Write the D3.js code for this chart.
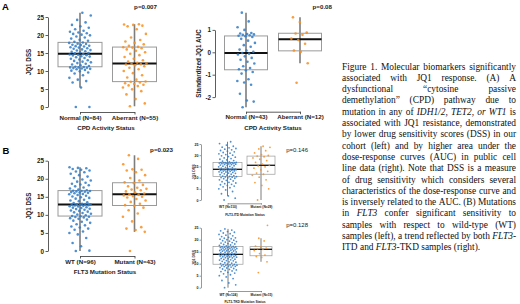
<!DOCTYPE html>
<html>
<head>
<meta charset="utf-8">
<script src="https://cdn.jsdelivr.net/npm/d3@7"></script>
<style>
  body { margin: 0; background: #fff; }
</style>
</head>
<body>
<div id="chart"></div>
<script>
// Data
var cpdGroups        = [ "Normal (N=84)", "Aberrant (N=55)" ];
var cpdAucGroups     = [ "Normal (N=43)", "Aberrant (N=12)" ];
var flt3Groups       = [ "WT (N=96)", "Mutant (N=43)" ];
var itdGroups        = [ "WT (N=110)", "Mutant (N=29)" ];
var tkdGroups        = [ "WT (N=124)", "Mutant (N=15)" ];

var dssTicks         = [ 0, 5, 10, 15, 20, 25 ];
var aucTicks         = [ -2, -1, 0, 1 ];
var pValues          = [ "p=0.007", "p=0.08", "p=0.023", "p=0.146", "p=0.128" ];

// JQ1 DSS by CPD status (our cohort)
var cpdDssNormal     = [ 0, 0, 5.4, 6.8, 7.2, 7.6, 8.1, 8.8, 9.3, 9.6, 9.9, 10.1, 10.3, 10.5, 10.6, 10.7, 10.8, 10.9, 11.0, 11.0, 11.1,
                         11.2, 11.4, 11.6, 11.8, 12.0, 12.2, 12.4, 12.6, 12.8, 13.0, 13.2, 13.4, 13.6, 13.8, 14.0, 14.1, 14.3, 14.4, 14.5, 14.6, 14.7,
                         14.9, 15.0, 15.2, 15.3, 15.5, 15.7, 15.8, 16.0, 16.2, 16.3, 16.5, 16.6, 16.8, 16.9, 17.0, 17.2, 17.3, 17.5, 17.6, 17.8, 17.9,
                         18.1, 18.4, 18.7, 19.0, 19.3, 19.6, 19.9, 20.1, 20.3, 20.5, 20.7, 20.9, 21.2, 21.6, 22.0, 22.4, 22.8, 23.5, 24.2, 25.4, 26.2 ];
var cpdDssAberrant   = [ 0.2, 1.0, 2.2, 3.5, 4.4, 4.9, 5.4, 5.8, 6.0, 6.2, 6.4, 6.6, 6.8, 7.0,
                         7.1, 7.6, 8.2, 8.8, 9.4, 10.0, 10.5, 10.9, 11.3, 11.6, 11.8, 11.9, 12.0, 12.1,
                         12.3, 12.6, 13.0, 13.4, 13.9, 14.4, 14.8, 15.2, 15.6, 16.0, 16.3, 16.5, 16.6,
                         16.7, 17.0, 17.4, 17.8, 18.2, 18.6, 19.3, 20.3, 21.6, 22.4, 22.6, 22.8, 22.9, 23.0 ];

// Standardized JQ1 AUC by CPD status (cell lines)
var cpdAucNormal     = [ -2.45, -2.2, -2.15, -1.85, -1.45, -1.35, -1.28, -1.2, -0.95, -0.88, -0.8,
                         -0.76, -0.7, -0.62, -0.5, -0.42, -0.33, -0.25, -0.18, -0.1, -0.06, -0.03,
                         0.02, 0.08, 0.12, 0.25, 0.32, 0.42, 0.52, 0.6, 0.68, 0.72,
                         0.74, 0.76, 0.78, 0.8, 0.82, 0.84, 0.86, 1.0, 1.12, 1.38, 1.77 ];
var cpdAucAberrant   = [ -1.36, -0.49, 0.02, 0.08, 0.38, 0.55, 0.61, 0.78, 0.84, 0.88, 1.35, 1.56 ];

// JQ1 DSS by FLT3 status
var flt3DssWT        = [ 0, 0.1, 1.3, 2.2, 3.6, 4.6, 5.0, 5.4, 5.9, 6.2, 6.5, 6.8, 7.1, 7.4, 7.8, 8.1, 8.4, 8.7, 8.9, 9.1, 9.3, 9.4, 9.5, 9.6,
                         9.7, 9.9, 10.1, 10.3, 10.5, 10.7, 10.9, 11.1, 11.2, 11.4, 11.6, 11.7, 11.9, 12.0, 12.1, 12.3, 12.4, 12.5, 12.6, 12.7, 12.8, 12.8, 12.9, 12.9,
                         12.9, 13.1, 13.3, 13.5, 13.8, 14.0, 14.2, 14.5, 14.7, 14.9, 15.1, 15.3, 15.5, 15.7, 15.8, 16.0, 16.1, 16.2, 16.3, 16.4, 16.5, 16.6, 16.6, 16.7,
                         16.8, 17.0, 17.3, 17.6, 17.9, 18.2, 18.4, 18.6, 18.9, 19.2, 19.5, 19.8, 20.2, 20.6, 21.0, 21.4, 21.8, 22.0, 22.3, 22.5, 22.7, 22.9, 23.0, 23.2 ];
var flt3DssMutant    = [ 0, 5.3, 5.8, 6.2, 6.6, 8.2, 9.5, 10.4, 11.3, 12.0, 12.5,
                         12.7, 13.1, 13.6, 14.0, 14.4, 14.8, 15.0, 15.2, 15.4, 15.6, 15.7,
                         15.9, 16.2, 16.5, 16.8, 17.0, 17.2, 17.5, 17.9, 18.3, 18.8,
                         19.0, 19.5, 20.2, 21.0, 21.8, 22.3, 22.5, 22.6, 24.0, 25.5, 26.5 ];

// JQ1 DSS by FLT3-ITD status
var itdDssWT         = [ 0, 0.8, 1.8, 2.8, 3.8, 4.5, 5.0, 5.5, 5.9, 6.2, 6.5, 6.8, 7.0, 7.3, 7.6, 7.9, 8.2, 8.5, 8.8, 9.0, 9.3, 9.5, 9.7, 9.9, 10.0, 10.2, 10.3, 10.4,
                         10.5, 10.7, 10.9, 11.1, 11.3, 11.5, 11.7, 11.9, 12.0, 12.2, 12.3, 12.5, 12.6, 12.8, 12.9, 13.0, 13.1, 13.2, 13.3, 13.4, 13.5, 13.5, 13.6, 13.6, 13.7, 13.7, 13.7,
                         13.7, 13.8, 14.0, 14.2, 14.4, 14.6, 14.8, 15.0, 15.1, 15.3, 15.5, 15.6, 15.8, 15.9, 16.0, 16.1, 16.2, 16.3, 16.4, 16.5, 16.5, 16.6, 16.6, 16.7, 16.7, 16.7, 16.7,
                         16.8, 17.0, 17.3, 17.6, 17.9, 18.2, 18.5, 18.8, 19.1, 19.4, 19.7, 20.0, 20.3, 20.6, 20.9, 21.2, 21.5, 21.8, 22.1, 22.4, 22.7, 23.0, 23.3, 23.6, 24.0, 24.5, 25.2, 26.0 ];
var itdDssMutant     = [ 0, 5.0, 6.5, 7.8, 9.0, 10.2, 11.0, 11.5, 12.0, 12.8, 13.5, 14.2, 14.8, 15.2, 15.5,
                         16.0, 16.8, 17.6, 18.2, 18.8, 19.3, 19.6, 19.9, 20.3, 21.0, 22.0, 22.8, 23.5, 24.0 ];

// JQ1 DSS by FLT3-TKD status
var tkdDssWT         = [ 0, 1.2, 2.0, 3.0, 3.8, 4.5, 5.0, 5.4, 5.8, 6.1, 6.4, 6.7, 7.0, 7.2, 7.4, 7.6, 7.8, 8.0, 8.2, 8.4, 8.6, 8.8, 8.9, 9.0, 9.1, 9.2, 9.3, 9.4, 9.5, 9.6, 9.7,
                         9.8, 10.0, 10.2, 10.4, 10.6, 10.8, 11.0, 11.2, 11.3, 11.5, 11.6, 11.8, 11.9, 12.1, 12.2, 12.4, 12.5, 12.7, 12.8, 12.9, 13.0, 13.1, 13.2, 13.3, 13.4, 13.5, 13.6, 13.7, 13.8, 13.8, 13.9,
                         13.9, 14.0, 14.2, 14.3, 14.5, 14.6, 14.8, 14.9, 15.0, 15.2, 15.3, 15.4, 15.5, 15.6, 15.7, 15.8, 15.9, 16.0, 16.1, 16.2, 16.3, 16.4, 16.5, 16.6, 16.7, 16.8, 16.8, 16.9, 17.0, 17.0, 17.1,
                         17.2, 17.4, 17.6, 17.8, 18.0, 18.2, 18.4, 18.6, 18.8, 19.0, 19.2, 19.4, 19.6, 19.8, 20.0, 20.2, 20.4, 20.6, 20.8, 21.0, 21.3, 21.6, 21.9, 22.2, 22.5, 22.8, 23.1, 23.4, 23.7, 24.0, 24.5 ];
var tkdDssMutant     = [ 6.3, 10.8, 12.6, 13.0, 13.6, 14.2, 15.5, 16.0, 16.2, 16.5, 16.9, 17.3, 19.5, 20.6, 26.0 ];

// Caption (*...* = italic)
var captionLines = [
    "Figure 1. Molecular biomarkers significantly",
    "associated with JQ1 response. (A) A",
    "dysfunctional \u201ccytosine passive",
    "demethylation\u201d (CPD) pathway due to",
    "mutation in any of *IDH1/2, TET2, or WT1* is",
    "associated with JQ1 resistance, demonstrated",
    "by lower drug sensitivity scores (DSS) in our",
    "cohort (left) and by higher area under the",
    "dose-response curves (AUC) in public cell",
    "line data (right). Note that DSS is a measure",
    "of drug sensitivity which considers several",
    "characteristics of the dose-response curve and",
    "is inversely related to the AUC. (B) Mutations",
    "in *FLT3* confer significant sensitivity to",
    "samples with respect to wild-type (WT)",
    "samples (left), a trend reflected by both *FLT3*-",
    "ITD and *FLT3*-TKD samples (right)."
];

var blue   = "#2f7bc8";
var orange = "#f98d1c";

var svg = d3.select("#chart")
    .append("svg")
    .attr("width", 520)
    .attr("height", 304);

// golden-ratio jitter, keeps points spread without randomness
function jitter(i) {
    return ((i * 0.6180339887 + 0.31) % 1) - 0.5;
}

function boxStats(values) {
    var s = values.slice().sort(d3.ascending);
    var q1 = d3.quantile(s, 0.25), med = d3.quantile(s, 0.5), q3 = d3.quantile(s, 0.75);
    var iqr = q3 - q1;
    var lo = d3.min(s.filter(v => v >= q1 - 1.5 * iqr));
    var hi = d3.max(s.filter(v => v <= q3 + 1.5 * iqr));
    return { q1: q1, med: med, q3: q3, lo: lo, hi: hi };
}

function boxPanel(p) {
    var g = svg.append("g");
    var x = d3.scalePoint().domain(p.groups).range(p.centers);
    var y = d3.scaleLinear().domain(p.yDomain).range(p.yRange);

    // y axis
    var ya = g.append("g")
        .attr("transform", "translate(" + p.axisX + ",0)")
        .call(d3.axisLeft(y).tickValues(p.ticks).tickSize(p.tickLen).tickSizeOuter(0)
            .tickPadding(p.tickPad).tickFormat(d => String(d)));
    ya.selectAll("text").attr("font-size", p.tickFont).attr("font-family", "Liberation Sans, Arial, sans-serif")
        .attr("font-weight", "bold").attr("fill", "#222");
    ya.selectAll("path,line").attr("stroke", "#333").attr("stroke-width", p.axisW);

    // x axis bracket + category labels
    var xa = g.append("g")
        .attr("transform", "translate(0," + p.bracketY + ")")
        .call(d3.axisBottom(x).tickSize(p.bracketTick).tickSizeOuter(0)
            .tickPadding(p.catY - p.bracketY - p.bracketTick - 0.71 * p.catFont));
    xa.selectAll("text").attr("font-size", p.catFont).attr("font-family", "Liberation Sans, Arial, sans-serif")
        .attr("font-weight", "bold").attr("fill", "#222");
    xa.selectAll("path,line").attr("stroke", "#333").attr("stroke-width", p.axisW);

    // axis titles
    g.append("text")
        .attr("x", p.titleX).attr("y", p.titleY)
        .attr("text-anchor", "middle")
        .attr("font-family", "Liberation Sans, Arial, sans-serif")
        .attr("font-size", p.catFont).attr("font-weight", "bold").attr("fill", "#222")
        .text(p.title);
    var yc = (p.yRange[0] + p.yRange[1]) / 2;
    g.append("text")
        .attr("transform", "translate(" + p.ylabelX + "," + yc + ") rotate(-90)")
        .attr("text-anchor", "middle")
        .attr("font-family", "Liberation Sans, Arial, sans-serif")
        .attr("font-size", p.ylabelFont).attr("font-weight", "bold").attr("fill", "#222")
        .text(p.ylabel);

    // p value
    g.append("text")
        .attr("x", p.pX).attr("y", p.pY)
        .attr("text-anchor", "end")
        .attr("font-family", "Liberation Sans, Arial, sans-serif")
        .attr("font-size", p.pFont).attr("font-weight", p.pWeight).attr("fill", "#222")
        .text(p.pText);

    // boxes
    p.series.forEach(function(values, k) {
        var st = boxStats(values);
        var cx = x(p.groups[k]);
        var w = p.boxW[k];
        g.append("line")
            .attr("x1", cx).attr("x2", cx)
            .attr("y1", y(st.lo)).attr("y2", y(st.hi))
            .attr("stroke", "#7d7d7d").attr("stroke-width", p.whiskerW);
        g.append("rect")
            .attr("x", cx - w / 2).attr("y", y(st.q3))
            .attr("width", w).attr("height", y(st.q1) - y(st.q3))
            .attr("fill", "none").attr("stroke", "#9a9a9a").attr("stroke-width", p.boxStroke);
        g.append("line")
            .attr("x1", cx - w / 2).attr("x2", cx + w / 2)
            .attr("y1", y(st.med)).attr("y2", y(st.med))
            .attr("stroke", "#111").attr("stroke-width", p.medW);
    });

    // points
    p.series.forEach(function(values, k) {
        var cx = x(p.groups[k]);
        g.append("g").selectAll("circle")
            .data(values)
            .enter()
            .append("circle")
            .attr("cx", (d, i) => cx + jitter(i) * 2 * p.spread[k])
            .attr("cy", d => y(d))
            .attr("r", p.r)
            .attr("fill", k === 0 ? blue : orange)
            .attr("fill-opacity", 0.85);
    });
}

var big = {
    tickLen: 2.5, tickPad: 1.5, tickFont: 6.3, catFont: 6.2, ylabelFont: 6.3,
    bracketTick: 2.5, axisW: 0.8, whiskerW: 1.6, boxStroke: 1, medW: 2,
    pFont: 6.2, pWeight: "bold", r: 1.3
};
var small = {
    tickLen: 1.5, tickPad: 1, tickFont: 3.6, catFont: 3.3, ylabelFont: 3.6,
    bracketTick: 1.3, axisW: 0.5, whiskerW: 1, boxStroke: 0.7, medW: 1.3,
    pFont: 6, pWeight: "normal", r: 0.9
};

boxPanel(Object.assign({}, big, {
    groups: cpdGroups, series: [ cpdDssNormal, cpdDssAberrant ],
    ticks: dssTicks, yDomain: [ 0, 25 ], yRange: [ 107, 17 ],
    axisX: 48, centers: [ 80, 134.5 ], boxW: [ 44, 44 ], spread: [ 11, 12 ],
    bracketY: 112, catY: 119.5, titleX: 106, titleY: 129.5, title: "CPD Activity Status",
    ylabelX: 31, ylabel: "JQ1 DSS", pX: 157, pY: 9, pText: pValues[0]
}));

boxPanel(Object.assign({}, big, {
    groups: cpdAucGroups, series: [ cpdAucNormal, cpdAucAberrant ],
    ticks: aucTicks, yDomain: [ -2, 1 ], yRange: [ 97.1, 29.9 ],
    axisX: 215, centers: [ 246, 300 ], boxW: [ 43, 43 ], spread: [ 9, 9 ],
    bracketY: 111.7, catY: 119.5, titleX: 273, titleY: 129.5, title: "CPD Activity Status",
    ylabelX: 201, ylabel: "Standardized JQ1 AUC", pX: 332, pY: 9, pText: pValues[1]
}));

boxPanel(Object.assign({}, big, {
    groups: flt3Groups, series: [ flt3DssWT, flt3DssMutant ],
    ticks: dssTicks, yDomain: [ 0, 25 ], yRange: [ 251, 160.7 ],
    axisX: 48, centers: [ 80, 134.5 ], boxW: [ 44, 44 ], spread: [ 11, 12 ],
    bracketY: 256, catY: 264, titleX: 105, titleY: 274, title: "FLT3 Mutation Status",
    ylabelX: 31, ylabel: "JQ1 DSS", pX: 173, pY: 152, pText: pValues[2]
}));

boxPanel(Object.assign({}, small, {
    groups: itdGroups, series: [ itdDssWT, itdDssMutant ],
    ticks: dssTicks, yDomain: [ 0, 25 ], yRange: [ 200, 144 ],
    axisX: 201, centers: [ 227.5, 261 ], boxW: [ 29, 28 ], spread: [ 9, 9 ],
    bracketY: 203.3, catY: 208.2, titleX: 245, titleY: 215.5, title: "FLT3-ITD Mutation Status",
    ylabelX: 195, ylabel: "JQ1 DSS", pX: 308, pY: 152, pText: pValues[3]
}));

boxPanel(Object.assign({}, small, {
    groups: tkdGroups, series: [ tkdDssWT, tkdDssMutant ],
    ticks: dssTicks, yDomain: [ 0, 25 ], yRange: [ 287.7, 227.7 ],
    axisX: 201, centers: [ 228, 261 ], boxW: [ 30, 22 ], spread: [ 9, 7 ],
    bracketY: 291, catY: 296.3, titleX: 245, titleY: 303.3, title: "FLT3-TKD Mutation Status",
    ylabelX: 195, ylabel: "JQ1 DSS", pX: 308, pY: 227, pText: pValues[4]
}));

// Panel letters
svg.append("text").attr("x", 2).attr("y", 10)
    .attr("font-family", "Liberation Sans, Arial, sans-serif").attr("font-size", 9.5).attr("font-weight", "bold")
    .text("A");
svg.append("text").attr("x", 2.5).attr("y", 154)
    .attr("font-family", "Liberation Sans, Arial, sans-serif").attr("font-size", 9.5).attr("font-weight", "bold")
    .text("B");

// Caption, justified word by word
var capLeft = 342, capRight = 516, capTop = 69.5, capLead = 11.3;
var cap = svg.append("g")
    .attr("font-family", "Liberation Serif, Times New Roman, serif")
    .attr("font-size", 9.4)
    .attr("fill", "#111");

function parseLine(s) {
    var words = [], segs = [], cur = "", italic = false;
    function flush() { if (cur) segs.push({ t: cur, i: italic }); cur = ""; }
    for (var c of s) {
        if (c === "*") { flush(); italic = !italic; }
        else if (c === " ") { flush(); if (segs.length) words.push(segs); segs = []; }
        else cur += c;
    }
    flush();
    if (segs.length) words.push(segs);
    return words;
}

captionLines.forEach(function(line, li) {
    var words = parseLine(line);
    var yy = capTop + li * capLead;
    var nodes = words.map(function(segs) {
        var t = cap.append("text").attr("y", yy);
        segs.forEach(function(sg) {
            t.append("tspan").attr("font-style", sg.i ? "italic" : "normal").text(sg.t);
        });
        return t;
    });
    var widths = nodes.map(t => t.node().getComputedTextLength());
    var total = d3.sum(widths);
    var last = li === captionLines.length - 1;
    var gap = (!last && nodes.length > 1) ? (capRight - capLeft - total) / (nodes.length - 1) : 2.35;
    var xx = capLeft;
    nodes.forEach(function(t, k) {
        t.attr("x", xx);
        xx += widths[k] + gap;
    });
});
</script>
</body>
</html>
